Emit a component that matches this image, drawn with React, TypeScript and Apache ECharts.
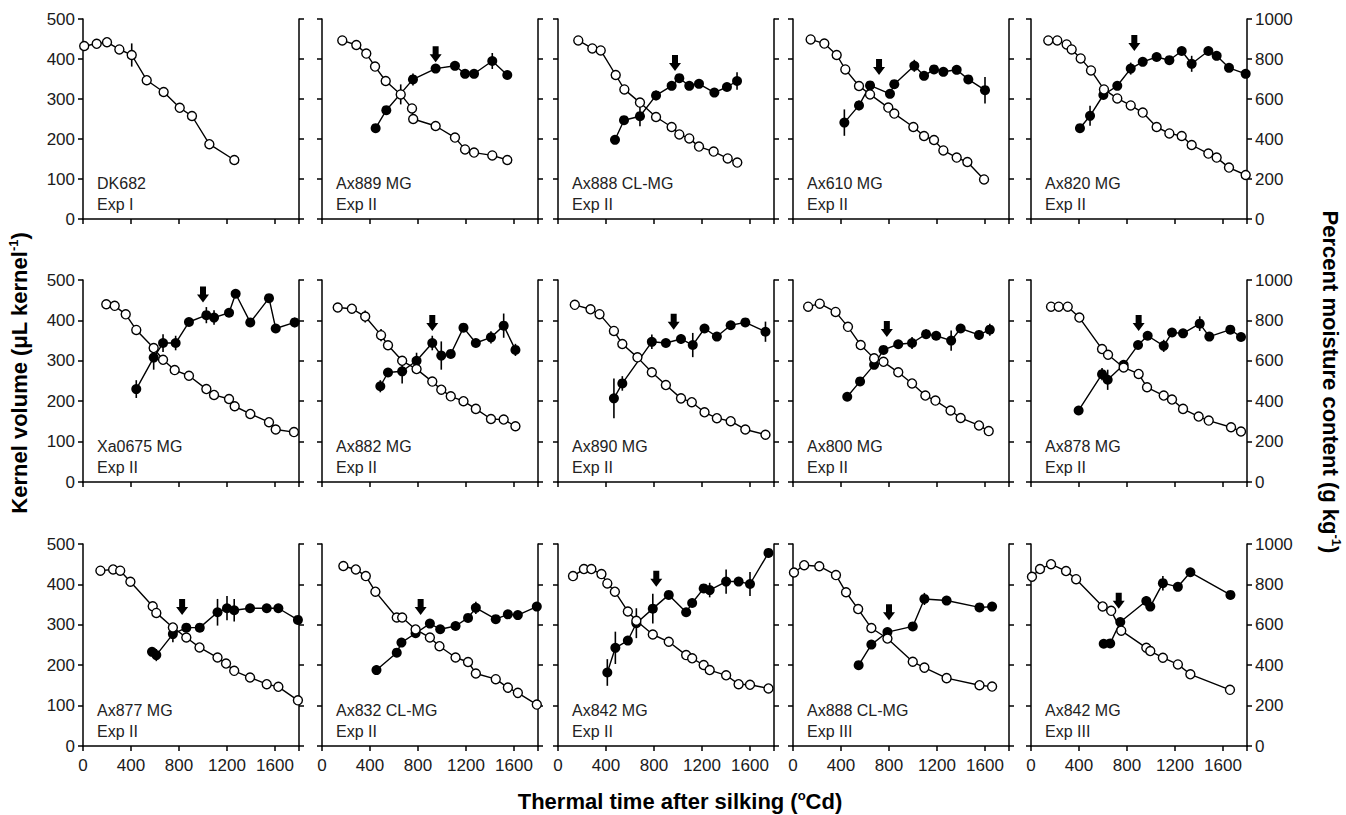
import { useEffect, useRef } from "react";
import * as echarts from "echarts";

// ---------- labels ----------
const cultivars = [
  "DK682", "Ax889 MG", "Ax888 CL-MG", "Ax610 MG", "Ax820 MG",
  "Xa0675 MG", "Ax882 MG", "Ax890 MG", "Ax800 MG", "Ax878 MG",
  "Ax877 MG", "Ax832 CL-MG", "Ax842 MG", "Ax888 CL-MG", "Ax842 MG",
];
const experiments = [
  "Exp I", "Exp II", "Exp II", "Exp II", "Exp II",
  "Exp II", "Exp II", "Exp II", "Exp II", "Exp II",
  "Exp II", "Exp II", "Exp II", "Exp III", "Exp III",
];

// ---------- axis ticks ----------
const timeTicks = [0, 400, 800, 1200, 1600];
const volumeTicks = [0, 100, 200, 300, 400, 500];
const moistureTicks = [0, 200, 400, 600, 800, 1000];
const timeMax = 1800;

// ---------- data: moisture [time, g kg-1, err?], volume [time, uL, err] ----------
const dk682Moist = [[10, 865], [114, 876], [200, 884], [303, 848], [406, 820, 58], [531, 694], [672, 635], [806, 556], [908, 515], [1053, 374], [1261, 295]];
const dk682Vol: number[][] = [];
const dk682Arrow: number[][] = [];

const ax889Moist = [[169, 893], [286, 870], [369, 827], [442, 762], [531, 690], [656, 623, 50], [750, 553], [760, 500], [947, 465], [1108, 407], [1192, 348], [1267, 332], [1419, 318], [1544, 295]];
const ax889Vol = [[447, 227, 10], [536, 272, 0], [758, 349, 15], [947, 376, 0], [1108, 383, 0], [1192, 363, 0], [1267, 363, 0], [1419, 395, 20], [1544, 360, 0]];
const ax889Arrow = [[947, 392]];

const ax888Moist = [[169, 893], [286, 853], [356, 843], [481, 720], [553, 648], [683, 582], [817, 510], [947, 460], [1011, 423], [1094, 403], [1175, 362], [1297, 337], [1414, 303], [1494, 282]];
const ax888Vol = [[475, 198, 8], [550, 247, 8], [683, 257, 25], [817, 309, 12], [947, 333, 0], [1011, 352, 0], [1094, 333, 0], [1175, 338, 0], [1303, 316, 8], [1408, 330, 8], [1492, 345, 22]];
const ax888Arrow = [[975, 370]];

const ax610Moist = [[147, 898], [261, 877], [364, 820], [436, 748], [550, 665], [642, 623], [794, 557], [844, 527], [1003, 460], [1092, 415], [1175, 395], [1253, 343], [1364, 307], [1453, 285], [1592, 198]];
const ax610Vol = [[428, 241, 33], [550, 284, 12], [642, 334, 0], [808, 313, 0], [844, 337, 0], [1011, 383, 15], [1092, 358, 0], [1175, 374, 0], [1253, 368, 0], [1364, 373, 0], [1461, 349, 10], [1600, 322, 33]];
const ax610Arrow = [[717, 360]];

const ax820Moist = [[144, 893], [219, 893], [297, 873], [339, 848], [414, 803], [500, 743], [608, 648], [719, 603], [831, 568], [931, 532], [1047, 460], [1153, 428], [1256, 415], [1339, 370], [1478, 327], [1547, 307], [1650, 257], [1789, 220]];
const ax820Vol = [[408, 227, 8], [492, 258, 25], [603, 310, 0], [719, 333, 0], [831, 376, 15], [931, 393, 10], [1047, 405, 8], [1153, 397, 0], [1256, 420, 8], [1339, 388, 20], [1478, 420, 0], [1547, 408, 0], [1650, 378, 10], [1789, 363, 0]];
const ax820Arrow = [[861, 420]];

const xa0675Moist = [[194, 880], [264, 872], [356, 830], [444, 753], [589, 663], [667, 605], [764, 554], [883, 526], [1028, 460], [1092, 431], [1217, 411], [1264, 375], [1394, 337], [1550, 296], [1606, 260], [1758, 247]];
const xa0675Vol = [[444, 230, 22], [589, 308, 30], [667, 344, 22], [772, 344, 18], [883, 396, 0], [1028, 413, 20], [1092, 407, 18], [1217, 419, 0], [1272, 466, 0], [1394, 395, 0], [1550, 455, 10], [1606, 380, 0], [1764, 395, 12]];
const xa0675Arrow = [[1000, 444]];

const ax882Moist = [[131, 864], [249, 858], [360, 819, 30], [492, 727, 30], [550, 677], [668, 600], [788, 559], [919, 497], [994, 457], [1073, 424], [1179, 400], [1282, 362], [1408, 312], [1514, 309], [1612, 276]];
const ax882Vol = [[486, 237, 15], [550, 271, 10], [668, 274, 30], [788, 300, 20], [919, 344, 18], [994, 313, 35], [1073, 317, 0], [1179, 382, 0], [1282, 344, 0], [1408, 358, 15], [1514, 387, 30], [1612, 327, 15]];
const ax882Arrow = [[919, 374]];

const ax890Moist = [[140, 877], [271, 855], [346, 831], [466, 748], [536, 683], [662, 617], [782, 543], [899, 480], [1025, 414], [1115, 395], [1221, 345], [1324, 316], [1439, 301], [1561, 260], [1729, 234]];
const ax890Vol = [[466, 207, 49], [536, 244, 18], [782, 347, 18], [899, 344, 0], [1025, 354, 12], [1123, 339, 30], [1221, 380, 10], [1324, 360, 10], [1439, 388, 0], [1561, 395, 0], [1729, 372, 25]];
const ax890Arrow = [[964, 377]];

const ax800Moist = [[126, 868], [223, 883], [355, 842], [458, 768], [564, 678], [676, 612], [754, 595], [877, 543], [992, 488], [1103, 428], [1187, 403], [1313, 354], [1397, 317], [1550, 280], [1631, 252]];
const ax800Vol = [[452, 211, 8], [559, 249, 0], [676, 290, 0], [754, 327, 8], [877, 341, 0], [992, 344, 15], [1109, 366, 12], [1193, 362, 0], [1318, 350, 25], [1397, 380, 0], [1550, 364, 12], [1640, 377, 15]];
const ax800Arrow = [[782, 359]];

const ax878Moist = [[167, 868], [231, 868], [306, 868], [403, 814], [592, 658], [642, 630], [772, 567], [897, 535], [967, 469], [1106, 428], [1175, 408], [1267, 362], [1397, 324], [1481, 304], [1667, 271], [1750, 250]];
const ax878Vol = [[397, 177, 0], [592, 267, 15], [639, 253, 25], [772, 290, 0], [892, 339, 0], [972, 362, 0], [1106, 337, 15], [1175, 370, 0], [1267, 368, 0], [1406, 392, 18], [1486, 360, 0], [1661, 377, 0], [1750, 359, 0]];
const ax878Arrow = [[897, 374]];

const ax877Moist = [[145, 868], [251, 874], [310, 868], [395, 813], [581, 692], [611, 659], [749, 587], [861, 537], [971, 488], [1121, 438], [1192, 408], [1260, 372], [1392, 339], [1531, 306], [1628, 293], [1791, 226]];
const ax877Vol = [[575, 233, 0], [611, 225, 15], [749, 277, 20], [861, 293, 0], [973, 293, 0], [1121, 331, 33], [1200, 341, 30], [1260, 336, 28], [1392, 341, 10], [1531, 341, 0], [1628, 341, 10], [1791, 312, 0]];
const ax877Arrow = [[826, 324]];

const ax832Moist = [[178, 891], [282, 874], [365, 841], [445, 764], [623, 636], [668, 636], [780, 577], [899, 537], [979, 494], [1113, 438], [1217, 416], [1282, 359], [1448, 331], [1549, 289], [1632, 263], [1790, 205]];
const ax832Vol = [[454, 188, 12], [623, 231, 0], [662, 256, 0], [780, 279, 0], [899, 303, 0], [985, 289, 0], [1113, 297, 0], [1217, 317, 0], [1282, 342, 15], [1448, 314, 0], [1549, 326, 0], [1632, 324, 0], [1790, 345, 0]];
const ax832Arrow = [[822, 324]];

const ax842Moist = [[125, 841], [216, 876], [278, 876], [362, 851], [411, 805], [474, 764], [582, 666], [653, 620], [790, 552], [923, 516], [1068, 450], [1118, 434], [1214, 401], [1264, 376], [1401, 350], [1505, 306], [1600, 303], [1754, 285]];
const ax842Vol = [[411, 182, 33], [478, 243, 40], [582, 261, 10], [653, 304, 37], [790, 340, 37], [923, 374, 0], [1068, 331, 0], [1118, 354, 0], [1214, 390, 0], [1264, 386, 18], [1401, 407, 30], [1505, 407, 0], [1600, 401, 30], [1754, 478, 12]];
const ax842Arrow = [[819, 394]];

const ax888e3Moist = [[8, 859], [93, 895], [219, 890], [358, 846], [442, 761], [543, 678], [653, 584], [787, 532], [998, 417], [1095, 388], [1280, 336], [1554, 301], [1659, 294]];
const ax888e3Vol = [[547, 200, 0], [653, 251, 0], [787, 282, 0], [998, 296, 0], [1095, 364, 15], [1280, 360, 0], [1554, 343, 0], [1659, 345, 0]];
const ax888e3Arrow = [[800, 311]];

const ax842e3Moist = [[8, 838], [75, 876], [167, 900], [292, 866], [376, 826], [597, 691], [668, 669], [752, 571], [961, 486], [994, 470], [1099, 437], [1224, 404], [1328, 355], [1658, 278]];
const ax842e3Vol = [[606, 253, 0], [660, 254, 0], [744, 307, 0], [961, 359, 12], [994, 345, 0], [1099, 403, 18], [1224, 394, 0], [1328, 430, 0], [1662, 374, 0]];
const ax842e3Arrow = [[731, 340]];

const moistSets = [dk682Moist, ax889Moist, ax888Moist, ax610Moist, ax820Moist, xa0675Moist, ax882Moist, ax890Moist, ax800Moist, ax878Moist, ax877Moist, ax832Moist, ax842Moist, ax888e3Moist, ax842e3Moist];
const volSets = [dk682Vol, ax889Vol, ax888Vol, ax610Vol, ax820Vol, xa0675Vol, ax882Vol, ax890Vol, ax800Vol, ax878Vol, ax877Vol, ax832Vol, ax842Vol, ax888e3Vol, ax842e3Vol];
const arrowSets = [dk682Arrow, ax889Arrow, ax888Arrow, ax610Arrow, ax820Arrow, xa0675Arrow, ax882Arrow, ax890Arrow, ax800Arrow, ax878Arrow, ax877Arrow, ax832Arrow, ax842Arrow, ax888e3Arrow, ax842e3Arrow];

// ---------- layout ----------
const FONT = "'Liberation Sans', Arial, sans-serif";
const colLeft = [83, 322, 558, 793, 1031];
const rowTop = [19, 280, 544];
const rowH = [200, 202, 202];
const plotW = 216;

const ARROW = "path://M3,0 L9,0 L9,8 L12,8 L6,16 L0,8 L3,8 Z";

function errRender(params: any, api: any) {
  const x = api.value(0);
  const p1 = api.coord([x, api.value(1)]);
  const p2 = api.coord([x, api.value(2)]);
  return {
    type: "line",
    shape: { x1: p1[0], y1: p1[1], x2: p2[0], y2: p2[1] },
    style: { stroke: "#000", lineWidth: 1.6 },
  };
}

function buildOption() {
  const grid: any[] = [];
  const xAxis: any[] = [];
  const yAxis: any[] = [];
  const series: any[] = [];
  const graphic: any[] = [];
  const axisLine = { show: true, onZero: false, lineStyle: { color: "#000", width: 1.5 } };
  const axisTick = { show: true, length: 5, lineStyle: { color: "#000", width: 1.5 } };
  const labelStyle = { fontSize: 17, color: "#1a1a1a", fontFamily: FONT };

  for (let i = 0; i < 15; i++) {
    const r = Math.floor(i / 5);
    const c = i % 5;
    grid.push({ left: colLeft[c], top: rowTop[r], width: plotW, height: rowH[r] });
    xAxis.push({
      type: "value", gridIndex: i, min: timeTicks[0], max: timeMax,
      interval: timeTicks[1] - timeTicks[0],
      axisLine, axisTick,
      axisLabel: { show: r === 2, margin: 11, ...labelStyle, formatter: (v: number) => (v > timeTicks[timeTicks.length - 1] ? "" : String(v)) },
      splitLine: { show: false },
    });
    yAxis.push({
      type: "value", gridIndex: i, position: "left",
      min: volumeTicks[0], max: volumeTicks[volumeTicks.length - 1], interval: volumeTicks[1] - volumeTicks[0],
      axisLine, axisTick,
      axisLabel: { show: c === 0, margin: 8, ...labelStyle, formatter: (v: number) => String(v) },
      splitLine: { show: false },
    });
    yAxis.push({
      type: "value", gridIndex: i, position: "right",
      min: moistureTicks[0], max: moistureTicks[moistureTicks.length - 1], interval: moistureTicks[1] - moistureTicks[0],
      axisLine, axisTick,
      axisLabel: { show: c === 4, margin: 8, ...labelStyle, formatter: (v: number) => String(v) },
      splitLine: { show: false },
    });

    const vol = volSets[i];
    const moist = moistSets[i];
    const volErr = vol.filter((d) => d[2] > 0).map((d) => [d[0], d[1] - d[2], d[1] + d[2]]);
    const moistErr = moist.filter((d) => (d[2] || 0) > 0).map((d) => [d[0], d[1] - d[2], d[1] + d[2]]);

    series.push({
      type: "custom", xAxisIndex: i, yAxisIndex: 2 * i, renderItem: errRender,
      data: volErr, z: 2, silent: true,
    });
    series.push({
      type: "line", xAxisIndex: i, yAxisIndex: 2 * i,
      data: vol.map((d) => [d[0], d[1]]),
      symbol: "circle", symbolSize: 10, showAllSymbol: true,
      itemStyle: { color: "#000", opacity: 1 }, lineStyle: { color: "#000", width: 1.4 }, z: 3,
    });
    series.push({
      type: "custom", xAxisIndex: i, yAxisIndex: 2 * i + 1, renderItem: errRender,
      data: moistErr, z: 4, silent: true,
    });
    series.push({
      type: "line", xAxisIndex: i, yAxisIndex: 2 * i + 1,
      data: moist.map((d) => [d[0], d[1]]),
      symbol: "circle", symbolSize: 9, showAllSymbol: true,
      itemStyle: { color: "#fff", borderColor: "#000", borderWidth: 1.4, opacity: 1 },
      lineStyle: { color: "#000", width: 1.4 }, z: 5,
    });
    if (arrowSets[i].length) {
      series.push({
        type: "scatter", xAxisIndex: i, yAxisIndex: 2 * i,
        data: arrowSets[i], symbol: ARROW, symbolSize: [12, 16], symbolOffset: [0, "-50%"],
        itemStyle: { color: "#000", opacity: 1 }, z: 6, silent: true,
      });
    }

    const bottom = rowTop[r] + rowH[r];
    graphic.push({
      type: "text", x: colLeft[c] + 14, y: bottom - 36,
      style: { text: cultivars[i], fontSize: 16, fontFamily: FONT, fill: "#222", verticalAlign: "middle", align: "left" },
    });
    graphic.push({
      type: "text", x: colLeft[c] + 14, y: bottom - 15,
      style: { text: experiments[i], fontSize: 16, fontFamily: FONT, fill: "#222", verticalAlign: "middle", align: "left" },
    });
  }

  const titleRich = {
    t: { fontSize: 22, fontWeight: "bold", fontFamily: FONT, fill: "#000", lineHeight: 25 },
    s: { fontSize: 13, fontWeight: "bold", fontFamily: FONT, fill: "#000", verticalAlign: "top", lineHeight: 25 },
  };
  graphic.push({
    type: "text", x: 19, y: 373, rotation: Math.PI / 2,
    style: { text: "{t|Kernel volume (μL kernel}{s|-1}{t|)}", rich: titleRich, align: "center", verticalAlign: "middle" },
  });
  graphic.push({
    type: "text", x: 1330, y: 382, rotation: -Math.PI / 2,
    style: { text: "{t|Percent moisture content (g kg}{s|-1}{t|)}", rich: titleRich, align: "center", verticalAlign: "middle" },
  });
  graphic.push({
    type: "text", x: 680, y: 801,
    style: { text: "{t|Thermal time after silking (}{s|o}{t|Cd)}", rich: titleRich, align: "center", verticalAlign: "middle" },
  });

  return { animation: false, backgroundColor: "#fff", grid, xAxis, yAxis, series, graphic };
}

export default function App() {
  const ref = useRef<HTMLDivElement>(null);
  useEffect(() => {
    if (!ref.current) return;
    const chart = echarts.init(ref.current, undefined, { renderer: "svg" });
    chart.setOption(buildOption() as any);
    return () => chart.dispose();
  }, []);
  return (
    <div
      ref={ref}
      style={{ position: "absolute", left: 0, top: 0, width: 1346, height: 815, background: "#fff" }}
    />
  );
}
